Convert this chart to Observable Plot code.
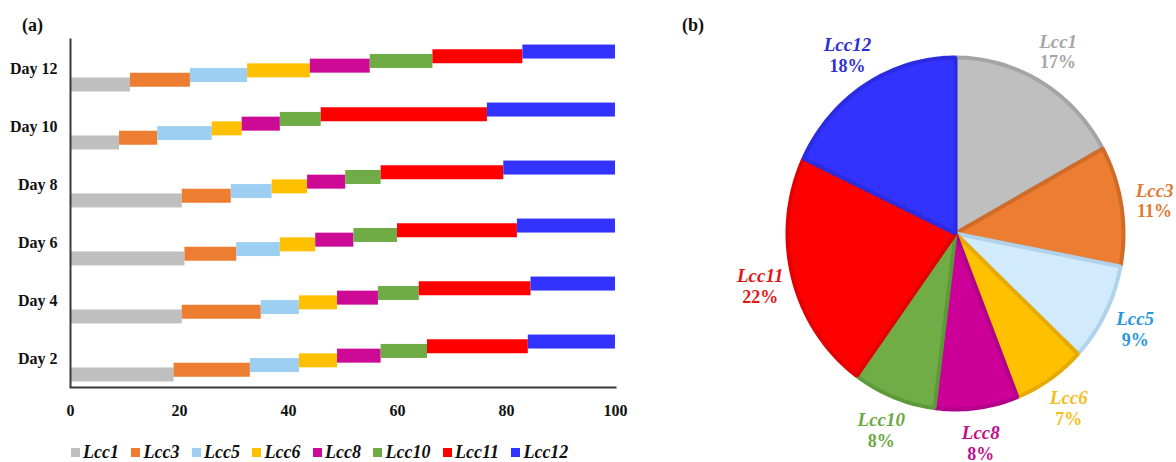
<!DOCTYPE html>
<html><head><meta charset="utf-8">
<script src="https://cdn.jsdelivr.net/npm/d3@7"></script>
<script src="https://cdn.jsdelivr.net/npm/@observablehq/plot@0.6"></script>
<style>
body{margin:0;background:#fff;width:1176px;height:462px;overflow:hidden;position:relative;font-family:"Liberation Serif",serif;}
.panel{position:absolute;font-weight:bold;font-size:18px;color:#111;}
#a{left:22px;top:15px}
#b{left:682px;top:15px}
#bar{position:absolute;left:0;top:0}
#pie{position:absolute;left:680px;top:0}
#leg{position:absolute;left:71px;top:436px}
#pie svg, #bar svg{overflow:visible}
.lg-swatch{margin-right:12.5px !important}
.lg-swatch > svg{margin-right:3px !important}
</style></head><body>
<div class="panel" id="a">(a)</div>
<div class="panel" id="b">(b)</div>
<div id="bar"></div><div id="pie"></div><div id="leg"></div>
<script>
// ---- data ----
const genes = ["Lcc1","Lcc3","Lcc5","Lcc6","Lcc8","Lcc10","Lcc11","Lcc12"];
const days = ["Day 2","Day 4","Day 6","Day 8","Day 10","Day 12"];
const day2  = [19, 14, 9, 7, 8, 8.5, 18.5, 16];
const day4  = [20.5, 14.5, 7, 7, 7.5, 7.5, 20.5, 15.5];
const day6  = [21, 9.5, 8, 6.5, 7, 8, 22, 18];
const day8  = [20.5, 9, 7.5, 6.5, 7, 6.5, 22.5, 20.5];
const day10 = [9, 7, 10, 5.5, 7, 7.5, 30.5, 23.5];
const day12 = [11, 11, 10.5, 11.5, 11, 11.5, 16.5, 17];
const xTicks = [0, 20, 40, 60, 80, 100];
const pieShare = [17, 11, 9, 7, 8, 8, 22, 18];

// ---- styles ----
const barColors  = ["#bfbfbf","#ed7d31","#9dcff3","#ffc000","#cc0a96","#6fac46","#ff0000","#3333ff"];
const pieFill    = ["#bfbfbf","#ed7d31","#d2ebfc","#ffc000","#cc0099","#70ad47","#ff0000","#3333ff"];
const pieStroke  = ["#a5a5a5","#d06c28","#b0d2ea","#e6aa00","#b3008a","#5f9a3a","#e20000","#2b2be0"];
const labelColor = ["#a6a6a6","#e07a35","#2a95d8","#f5be1a","#c0108c","#6aa843","#e01818","#3030d0"];

const series = [day2, day4, day6, day8, day10, day12];
const rows = [];
days.forEach((d, j) => {
  let c = 0;
  series[j].forEach((v, i) => { rows.push({day: d, gene: genes[i], gi: i, x1: c, x2: c + v}); c += v; });
});

const stepPx = 4.7;
const barMarks = genes.map((g, i) => Plot.barX(rows.filter(r => r.gi === i), {
  x1: "x1", x2: "x2", y: "day", fill: barColors[i],
  insetTop: 22, insetBottom: 22, dy: (3.5 - i) * stepPx
}));

const bar = Plot.plot({
  width: 640, height: 425,
  marginLeft: 70, marginRight: 25, marginTop: 38.5, marginBottom: 38,
  x: {domain: [0, 100], ticks: xTicks},
  y: {domain: days.slice().reverse(), padding: 0},
  style: {fontFamily: "Liberation Serif", fontWeight: "bold", fontSize: "16px", color: "#111", background: "transparent"},
  marks: [
    ...barMarks,
    Plot.axisX({tickSize: 0, tickPadding: 17, label: null}),
    Plot.axisY({tickSize: 0, tickPadding: 13, label: null}),
    Plot.ruleX([0], {stroke: "#3a3a3a", strokeWidth: 2}),
    Plot.frame({anchor: "bottom", stroke: "#3a3a3a", strokeWidth: 2})
  ]
});
document.getElementById("bar").append(bar);

// legend
const leg = Plot.legend({
  color: {type: "ordinal", domain: genes, range: barColors},
  swatchSize: 9, className: "lg",
  style: {fontFamily: "Liberation Serif", fontSize: "18px", fontWeight: "bold", fontStyle: "italic", color: "#111"}
});
document.getElementById("leg").append(leg);

// ---- pie ----
const pieRows = [];
const labRows = [];
let acc = 0;
genes.forEach((g, i) => {
  const a0 = acc / 100 * 2 * Math.PI, a1 = (acc + pieShare[i]) / 100 * 2 * Math.PI;
  pieRows.push({gi: i, x: 0, y: 0});
  const n = Math.max(4, Math.ceil(pieShare[i] * 3));
  for (let k = 0; k <= n; k++) {
    const t = a0 + (a1 - a0) * k / n;
    pieRows.push({gi: i, x: Math.sin(t), y: Math.cos(t)});
  }
  const mid = (a0 + a1) / 2, R = 1.2;
  labRows.push({gene: g, pct: pieShare[i] + "%", x: R * Math.sin(mid), y: R * Math.cos(mid), color: labelColor[i]});
  acc += pieShare[i];
});

const pie = Plot.plot({
  width: 496, height: 462,
  marginLeft: 107, marginRight: 53, marginTop: 57, marginBottom: 53,
  x: {domain: [-1, 1], axis: null},
  y: {domain: [-1, 1], axis: null},
  style: {fontFamily: "Liberation Serif", fontWeight: "bold", background: "transparent"},
  marks: [
    ...genes.map((g, i) => Plot.line(pieRows.filter(r => r.gi === i), {
      x: "x", y: "y", fill: pieFill[i], stroke: pieStroke[i], strokeWidth: 4,
      strokeLinejoin: "miter", curve: "linear-closed"
    })),
    Plot.text(labRows, {x: "x", y: "y", text: "gene", fill: "color", dy: -10, fontSize: 19, fontStyle: "italic", fontWeight: "bold"}),
    Plot.text(labRows, {x: "x", y: "y", text: "pct", fill: "color", dy: 11, fontSize: 18, fontWeight: "bold"})
  ]
});
document.getElementById("pie").append(pie);
</script>
</body></html>
